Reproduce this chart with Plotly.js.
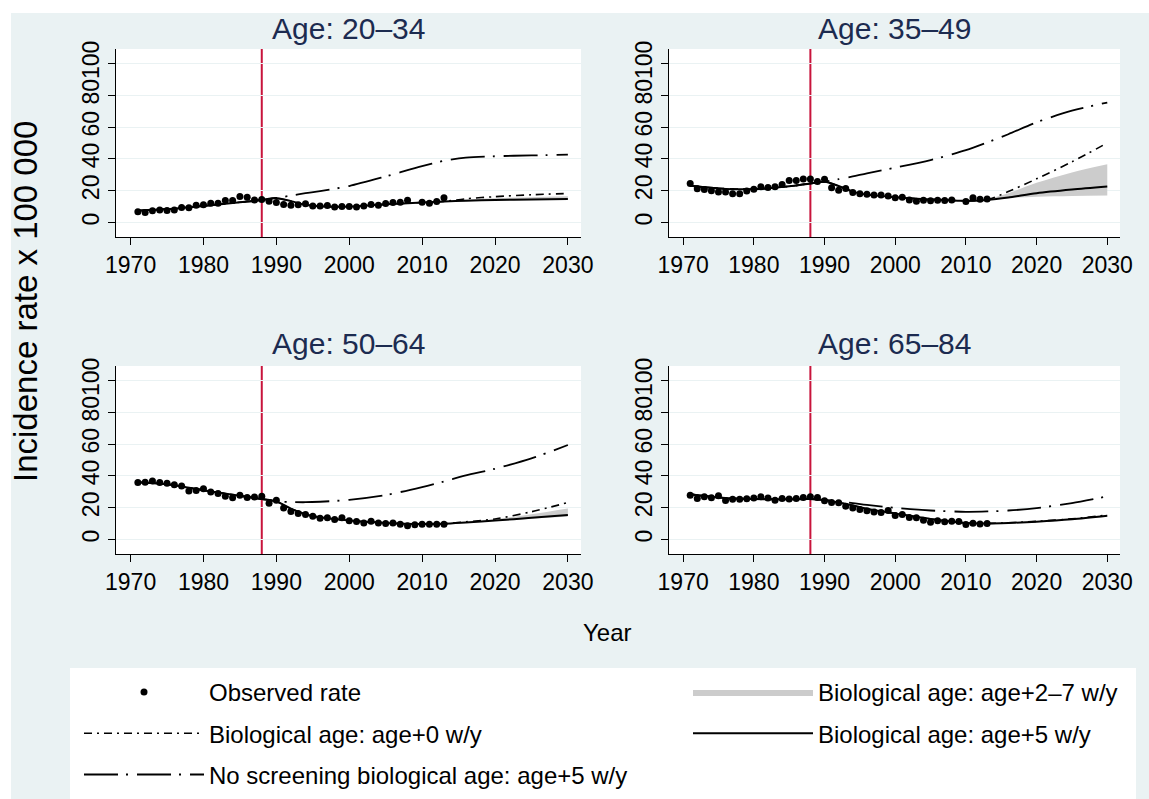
<!DOCTYPE html>
<html>
<head>
<meta charset="utf-8">
<script src="https://cdn.plot.ly/plotly-3.0.1.min.js"></script>
<style>
html,body{margin:0;padding:0;background:#ffffff;}
#chart{width:1149px;height:799px;}
</style>
</head>
<body>
<div id="chart"></div>
<script>
// ---------------- DATA ----------------
const panelTitles = ["Age: 20\u201334", "Age: 35\u201349", "Age: 50\u201364", "Age: 65\u201384"];
const screeningYear = 1988;

const obsYears = [1971,1972,1973,1974,1975,1976,1977,1978,1979,1980,
                  1981,1982,1983,1984,1985,1986,1987,1988,1989,1990,
                  1991,1992,1993,1994,1995,1996,1997,1998,1999,2000,
                  2001,2002,2003,2004,2005,2006,2007,2008,2009,2010,
                  2011,2012,2013];

const obs2034 = [6.9,6.3,7.4,8.0,7.6,8.0,9.5,9.3,11.0,11.2,
                 12.2,12.2,13.9,13.9,16.4,16.0,14.3,14.5,13.5,12.6,
                 11.4,11.0,11.2,11.8,10.5,10.5,10.7,9.9,10.1,10.1,
                 9.9,10.5,11.4,11.0,12.0,12.6,12.8,14.1,null,12.8,
                 12.2,13.3,15.6];
const obs3549 = [24.6,21.3,20.8,20.0,19.2,19.2,18.1,18.1,19.8,21.0,
                 22.5,22.1,22.5,24.0,26.5,26.5,27.4,27.4,25.9,27.2,
                 21.9,20.4,21.5,18.9,18.1,17.9,17.3,17.3,16.8,15.6,
                 16.0,14.3,13.5,14.1,13.7,14.1,13.9,14.3,null,13.3,
                 15.6,14.7,14.9];
const obs5064 = [35.8,36.0,36.8,35.8,35.4,34.5,33.7,30.5,30.9,32.0,
                 29.9,29.0,27.2,26.3,27.8,26.5,26.7,27.2,22.9,24.8,
                 19.8,17.7,16.4,15.8,14.7,13.5,13.7,12.6,13.7,11.8,
                 11.4,10.5,11.6,10.5,10.1,10.5,9.7,8.8,9.3,9.7,
                 9.7,9.7,9.7];
const obs6584 = [27.8,25.9,26.9,26.3,27.6,24.6,25.3,25.3,25.7,26.1,
                 26.9,26.1,24.8,25.9,25.5,25.9,26.5,26.9,26.5,24.4,
                 23.4,23.2,21.0,19.8,18.9,18.1,17.3,17.0,18.3,15.2,
                 15.8,13.9,13.7,12.2,10.9,11.8,11.2,11.6,11.4,9.5,
                 10.3,9.9,10.1];

const modelYears = [1971,1975,1980,1985,1988,1990,1992,1994,1996,2000,2005,2010,2013,2016,2020,2025,2030];

// Biological age: age+5 w/y (solid)
const age5_2034 = [7.5,8.5,10.5,12.8,14.2,15.4,13.5,11.2,10.3,10.0,11.5,12.7,13.3,13.8,14.2,14.5,14.8];
const age5_3549 = [23.2,21.5,21.0,22.8,24.6,25.6,23.0,19.5,17.6,16.0,14.6,13.7,14.3,15.8,18.5,20.8,22.7];
const age5_5064 = [36.0,34.8,31.0,27.5,25.5,24.0,19.5,16.0,14.0,12.0,10.5,9.8,10.0,10.8,12.0,13.7,15.5];
const age5_6584 = [28.5,26.5,25.5,25.3,25.5,24.8,23.3,21.5,19.3,16.5,13.0,10.5,10.2,10.5,11.3,12.8,15.0];

// Biological age: age+0 w/y (dash-dot)
const age0_2034 = [7.5,8.5,10.5,12.8,14.2,15.4,13.5,11.2,10.3,10.0,11.5,12.7,13.3,15.0,16.3,17.5,18.3];
const age0_3549 = [23.2,21.5,21.0,22.8,24.6,25.6,23.0,19.5,17.6,16.0,14.6,13.7,14.3,19.5,27.5,38.2,50.0];
const age0_5064 = [36.0,34.8,31.0,27.5,25.5,24.0,19.5,16.0,14.0,12.0,10.5,9.8,10.0,11.2,13.0,17.5,23.3];
const age0_6584 = [28.5,26.5,25.5,25.3,25.5,24.8,23.3,21.5,19.3,16.5,13.0,10.5,10.2,10.6,11.5,13.1,15.5];

// No screening biological age: age+5 w/y (long dash-dot)
const noScr_2034 = [7.5,8.5,10.5,12.8,14.2,15.5,17.0,18.5,19.8,23.0,29.0,35.5,38.8,40.8,41.7,42.2,42.7];
const noScr_3549 = [23.2,21.5,21.0,22.8,24.6,25.8,27.3,29.0,31.0,34.5,39.3,45.5,50.3,55.5,63.0,70.3,75.4];
const noScr_5064 = [36.0,34.8,31.0,27.5,25.5,24.0,23.6,23.5,23.8,25.0,28.0,33.0,36.5,40.3,44.5,51.0,59.4];
const noScr_6584 = [28.5,26.5,25.5,25.3,25.5,25.0,24.0,23.0,21.8,20.0,18.3,17.5,17.7,18.3,19.8,23.0,27.2];

// Biological age: age+2-7 w/y (band)
const bandYears = [2013,2016,2020,2025,2030];
const bandLo_2034 = [13.3,13.7,14.1,14.4,14.6];
const bandHi_2034 = [13.5,14.6,15.4,16.0,16.5];
const bandLo_3549 = [14.3,15.5,16.3,16.8,17.0];
const bandHi_3549 = [14.5,18.5,25.0,31.5,36.6];
const bandLo_5064 = [10.0,10.7,11.7,13.2,14.5];
const bandHi_5064 = [10.1,11.2,12.8,16.0,19.6];
const bandLo_6584 = [10.2,10.5,11.3,12.8,15.0];
const bandHi_6584 = [10.2,10.7,11.6,13.3,15.7];

const xTicks = [1970,1980,1990,2000,2010,2020,2030];
const yTicks = [0,20,40,60,80,100];

const seriesNames = {
  obs: "Observed rate",
  band: "Biological age: age+2\u20137 w/y",
  age0: "Biological age: age+0 w/y",
  age5: "Biological age: age+5 w/y",
  noScr: "No screening biological age: age+5 w/y"
};

const panels = [
  {obs: obs2034, age5: age5_2034, age0: age0_2034, noScr: noScr_2034, lo: bandLo_2034, hi: bandHi_2034},
  {obs: obs3549, age5: age5_3549, age0: age0_3549, noScr: noScr_3549, lo: bandLo_3549, hi: bandHi_3549},
  {obs: obs5064, age5: age5_5064, age0: age0_5064, noScr: noScr_5064, lo: bandLo_5064, hi: bandHi_5064},
  {obs: obs6584, age5: age5_6584, age0: age0_6584, noScr: noScr_6584, lo: bandLo_6584, hi: bandHi_6584}
];

// ---------------- LAYOUT GEOMETRY ----------------
const W = 1149, H = 799;
const px = v => v / W;
const py = v => 1 - v / H;
const xDomains = [[px(116), px(581)], [px(669), px(1120)]];
const yDomains = [[py(237), py(49)], [py(554), py(366)]];

const FONT = "Liberation Sans, Arial, Helvetica, sans-serif";
const BG = "#eaf2f3";
const TITLE_COLOR = "#1c2b50";
const TICK_SIZE = 23;

const traces = [];
const layout = {
  width: W, height: H,
  margin: {l: 0, r: 0, t: 0, b: 0, pad: 0},
  paper_bgcolor: BG,
  plot_bgcolor: "#ffffff",
  font: {family: FONT, color: "#000000", size: TICK_SIZE},
  showlegend: true,
  shapes: [],
  annotations: [],
  legend: {
    x: px(79), y: py(670), xanchor: "left", yanchor: "top",
    bgcolor: "rgba(0,0,0,0)", borderwidth: 0,
    itemwidth: 120, font: {family: FONT, size: 24, color: "#000"},
    traceorder: "grouped", tracegroupgap: 7, itemclick: false, itemdoubleclick: false
  },
  legend2: {
    x: px(688), y: py(670), xanchor: "left", yanchor: "top",
    bgcolor: "rgba(0,0,0,0)", borderwidth: 0,
    itemwidth: 120, font: {family: FONT, size: 24, color: "#000"},
    traceorder: "grouped", tracegroupgap: 7, itemclick: false, itemdoubleclick: false
  }
};

// background decorations
layout.shapes.push({type: "rect", xref: "paper", yref: "paper", x0: 0, x1: 1, y0: py(13), y1: 1,
  fillcolor: "#ffffff", line: {width: 0}, layer: "below"});
layout.shapes.push({type: "rect", xref: "paper", yref: "paper", x0: 0, x1: px(11), y0: 0, y1: 1,
  fillcolor: "#ffffff", line: {width: 0}, layer: "below"});
layout.shapes.push({type: "rect", xref: "paper", yref: "paper", x0: px(70), x1: px(1136), y0: 0, y1: py(668),
  fillcolor: "#ffffff", line: {width: 0}, layer: "below"});

panels.forEach((p, i) => {
  const n = i + 1;
  const xa = "x" + (n === 1 ? "" : n);
  const ya = "y" + (n === 1 ? "" : n);
  const col = i % 2, row = Math.floor(i / 2);
  const first = i === 0;

  layout["xaxis" + (n === 1 ? "" : n)] = {
    domain: xDomains[col], anchor: ya, range: [1968, 2031.8],
    tickmode: "array", tickvals: xTicks, ticktext: xTicks.map(String),
    ticks: "outside", ticklen: 7, tickwidth: 1, tickcolor: "#000",
    showline: true, linecolor: "#000", linewidth: 1, mirror: false,
    showgrid: false, zeroline: false,
    tickfont: {family: FONT, size: TICK_SIZE, color: "#000"}, fixedrange: true
  };
  layout["yaxis" + (n === 1 ? "" : n)] = {
    domain: yDomains[row], anchor: xa, range: [-9, 109],
    tickmode: "array", tickvals: yTicks, ticktext: yTicks.map(String), tickangle: -90,
    ticks: "outside", ticklen: 7, tickwidth: 1, tickcolor: "#000",
    showline: true, linecolor: "#000", linewidth: 1, mirror: false,
    showgrid: true, gridcolor: BG, gridwidth: 1.2, zeroline: false,
    tickfont: {family: FONT, size: TICK_SIZE, color: "#000"}, fixedrange: true
  };

  // band lower
  traces.push({x: bandYears, y: p.lo, xaxis: xa, yaxis: ya, type: "scatter", mode: "lines",
    line: {width: 0, color: "#cccccc", shape: "spline"}, showlegend: false, legendgroup: "band",
    legend: "legend2", hoverinfo: "skip"});
  // band upper
  traces.push({x: bandYears, y: p.hi, xaxis: xa, yaxis: ya, type: "scatter", mode: "lines",
    fill: "tonexty", fillcolor: "#cccccc",
    line: {width: 0, color: "#cccccc", shape: "spline"}, name: seriesNames.band,
    showlegend: first, legendgroup: "band", legend: "legend2", legendrank: 1, hoverinfo: "skip"});
  // age+0
  traces.push({x: modelYears, y: p.age0, xaxis: xa, yaxis: ya, type: "scatter", mode: "lines",
    line: {width: 1.6, color: "#000", dash: "8px,5px,2px,5px", shape: "spline", smoothing: 0.8},
    name: seriesNames.age0, showlegend: first, legendgroup: "age0", legend: "legend", legendrank: 2,
    hoverinfo: "skip"});
  // no screening
  traces.push({x: modelYears, y: p.noScr, xaxis: xa, yaxis: ya, type: "scatter", mode: "lines",
    line: {width: 1.8, color: "#000", dash: "34px,8px,2px,9px", shape: "spline", smoothing: 0.8},
    name: seriesNames.noScr, showlegend: first, legendgroup: "noScr", legend: "legend", legendrank: 3,
    hoverinfo: "skip"});
  // age+5 solid
  traces.push({x: modelYears, y: p.age5, xaxis: xa, yaxis: ya, type: "scatter", mode: "lines",
    line: {width: 2, color: "#000", shape: "spline", smoothing: 0.8},
    name: seriesNames.age5, showlegend: first, legendgroup: "age5", legend: "legend2", legendrank: 2,
    hoverinfo: "skip"});
  // observed
  traces.push({x: obsYears, y: p.obs, xaxis: xa, yaxis: ya, type: "scatter", mode: "markers",
    marker: {size: 7, color: "#000", symbol: "circle"},
    name: seriesNames.obs, showlegend: first, legendgroup: "obs", legend: "legend", legendrank: 1,
    hoverinfo: "skip"});

  // screening start line
  layout.shapes.push({type: "line", xref: xa, yref: ya + " domain", x0: screeningYear, x1: screeningYear,
    y0: 0, y1: 1, line: {color: "#c8143c", width: 2}, layer: "below"});

  // panel title
  const xc = (xDomains[col][0] + xDomains[col][1]) / 2;
  layout.annotations.push({text: panelTitles[i], xref: "paper", yref: "paper",
    x: xc, y: row === 0 ? py(28) : py(343), xanchor: "center", yanchor: "middle",
    showarrow: false, font: {family: FONT, size: 30, color: TITLE_COLOR}});
});

// shared axis titles
layout.annotations.push({text: "Incidence rate x 100 000", xref: "paper", yref: "paper",
  x: px(26), y: py(302), xanchor: "center", yanchor: "middle", textangle: -90,
  showarrow: false, font: {family: FONT, size: 33, color: "#000"}});
layout.annotations.push({text: "Year", xref: "paper", yref: "paper",
  x: px(607), y: py(632), xanchor: "center", yanchor: "middle",
  showarrow: false, font: {family: FONT, size: 24, color: "#000"}});

Plotly.newPlot("chart", traces, layout, {displayModeBar: false, responsive: false});
</script>
</body>
</html>
